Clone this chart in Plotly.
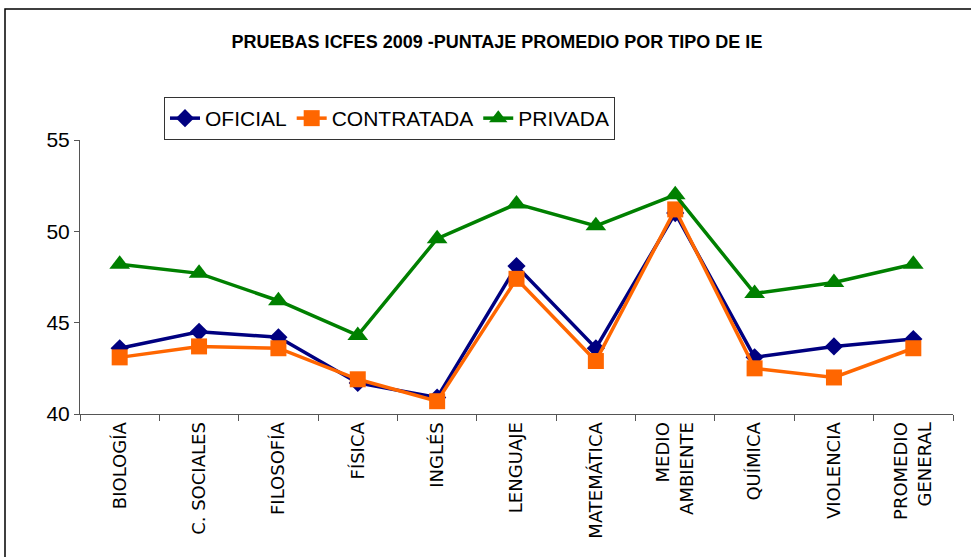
import plotly.graph_objects as go

categories = ["BIOLOGÍA", "C. SOCIALES", "FILOSOFÍA", "FÍSICA", "INGLÉS", "LENGUAJE",
              "MATEMÁTICA", "MEDIO<br>AMBIENTE", "QUÍMICA", "VIOLENCIA", "PROMEDIO<br>GENERAL"]
oficial = [43.6, 44.5, 44.2, 41.7, 40.9, 48.1, 43.6, 51.0, 43.1, 43.7, 44.1]
contratada = [43.1, 43.7, 43.6, 41.9, 40.7, 47.4, 42.9, 51.2, 42.5, 42.0, 43.6]
privada = [48.2, 47.7, 46.2, 44.3, 49.6, 51.5, 50.3, 52.0, 46.6, 47.2, 48.2]
y_ticks = [40, 45, 50, 55]

W, H = 971, 557
L = 80
T = 140
R = W - 953
B = H - 414
NARROW = "Liberation Sans Narrow, Arial Narrow, Liberation Sans, Arial"

fig = go.Figure()
fig.add_trace(go.Scatter(x=categories, y=oficial, name="OFICIAL", mode="lines+markers",
                         line=dict(color="#000080", width=3.5),
                         marker=dict(symbol="diamond", size=14, color="#000080")))
fig.add_trace(go.Scatter(x=categories, y=contratada, name="CONTRATADA", mode="lines+markers",
                         line=dict(color="#FF6600", width=3.5),
                         marker=dict(symbol="square", size=16, color="#FF6600")))
fig.add_trace(go.Scatter(x=categories, y=privada, name="PRIVADA", mode="lines+markers",
                         line=dict(color="#008000", width=3.5),
                         marker=dict(symbol="triangle-up", size=18, color="#008000")))

pw = W - L - R
ph = H - T - B
def px_x(x):
    return (x - L) / pw
def px_y(y):
    return (H - B - y) / ph

fig.update_layout(
    width=W, height=H,
    margin=dict(l=L, r=R, t=T, b=B, autoexpand=False),
    paper_bgcolor="white", plot_bgcolor="white",
    font=dict(family=NARROW, size=16, color="black"),
    title=dict(text="<b>PRUEBAS ICFES 2009 -PUNTAJE PROMEDIO POR TIPO DE IE</b>",
               x=497 / W, xanchor="center", y=1 - 42 / H, yanchor="middle",
               font=dict(size=18, family=NARROW)),
    legend=dict(orientation="h", x=px_x(164), y=px_y(97), xanchor="left", yanchor="top",
                bordercolor="#333333", borderwidth=1, bgcolor="white",
                font=dict(size=21, family=NARROW),
                itemwidth=30, tracegroupgap=0),
    showlegend=True,
    hovermode=False,
    shapes=[dict(type="rect", xref="paper", yref="paper",
                 x0=px_x(5), x1=px_x(990), y0=px_y(580), y1=px_y(9),
                 line=dict(color="black", width=1.5), fillcolor="rgba(0,0,0,0)", layer="above")],
)
fig.update_xaxes(type="category", tickson="boundaries", ticks="outside", ticklen=6,
                 tickcolor="#555555", showline=True, linecolor="#555555", linewidth=1,
                 showgrid=False, tickangle=-90, automargin=False,
                 tickfont=dict(family="DejaVu Sans", size=18, color="black"),
                 range=[-0.5, 10.5])
fig.update_yaxes(range=[40, 55], tickvals=y_ticks, ticks="outside", ticklen=5,
                 tickcolor="#555555", showline=True, linecolor="#555555", linewidth=1,
                 showgrid=False, zeroline=False, automargin=False,
                 tickfont=dict(family=NARROW, size=21))

fig.write_html("out.html", config={"displayModeBar": False},
               post_script="document.body.style.margin='0';document.body.style.overflow='hidden';")
